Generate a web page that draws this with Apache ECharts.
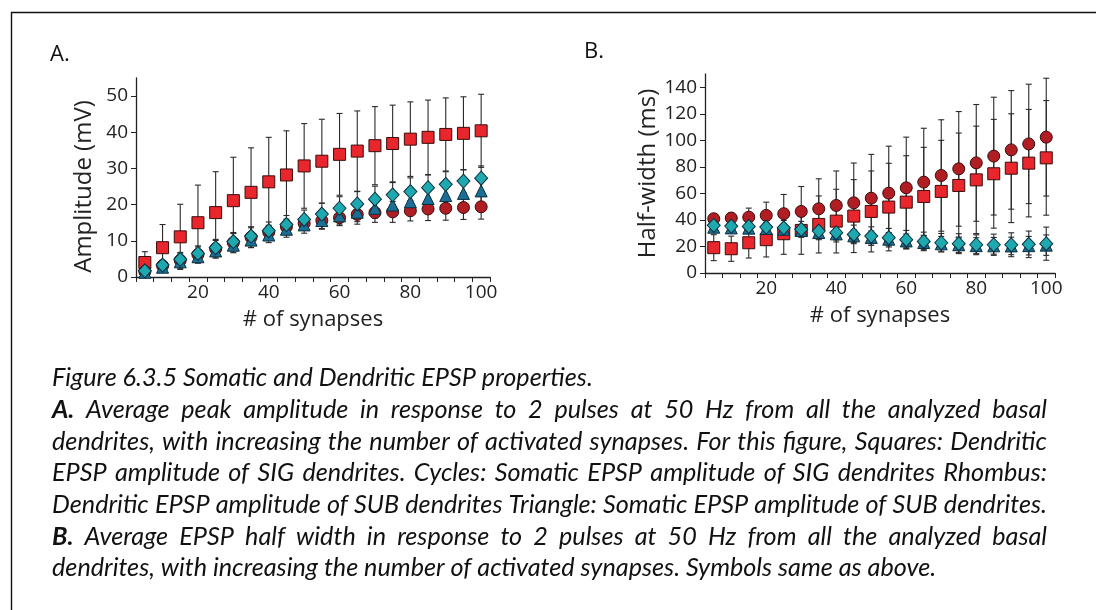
<!DOCTYPE html>
<html>
<head>
<meta charset="utf-8">
<script src="https://cdn.jsdelivr.net/npm/echarts@6/dist/echarts.min.js"></script>
<style>
html,body{margin:0;padding:0;background:#fff;}
#c{width:1096px;height:610px;}
</style>
</head>
<body>
<div id="c"></div>
<script>
// ---------------- DATA ----------------
const synapses = ['5','10','15','20','25','30','35','40','45','50','55','60','65','70','75','80','85','90','95','100'];

// Panel A: amplitude (mV)
const ampDendSIG    = [4.0, 8.1, 11.1, 15.0, 17.8, 21.1, 23.4, 26.3, 28.2, 30.7, 32.0, 33.9, 34.8, 36.3, 36.9, 38.1, 38.6, 39.4, 39.7, 40.4]; // squares
const ampDendSIGErr = [3.0, 6.4, 9.0, 10.4, 11.3, 12.0, 12.3, 12.3, 12.2, 11.7, 11.6, 11.3, 11.1, 10.8, 10.6, 10.3, 10.3, 10.1, 10.1, 10.1];
const ampSomaSIG    = [1.5, 3.1, 4.6, 6.2, 7.8, 9.5, 11.0, 12.4, 13.9, 14.8, 15.6, 16.4, 17.3, 17.8, 18.0, 18.3, 18.8, 19.0, 19.2, 19.4]; // circles
const ampSomaSIGErr = [0.8, 1.5, 2.2, 2.4, 2.6, 2.8, 2.9, 1.9, 1.8, 1.8, 2.2, 2.2, 2.7, 2.7, 2.9, 2.8, 3.2, 3.3, 3.3, 3.4];
const ampDendSUB    = [1.7, 3.3, 4.9, 6.5, 8.1, 9.8, 11.3, 12.8, 14.5, 15.9, 17.4, 19.0, 20.2, 21.5, 22.7, 23.6, 24.7, 25.6, 26.5, 27.3]; // diamonds
const ampDendSUBErr = [0.8, 1.2, 1.5, 1.8, 2.0, 2.2, 2.3, 2.4, 2.5, 2.6, 3.0, 3.2, 3.4, 3.6, 3.4, 3.8, 3.5, 3.5, 3.2, 3.4];
const ampSomaSUB    = [1.3, 2.7, 4.2, 5.6, 7.2, 8.8, 10.2, 11.6, 13.2, 14.4, 15.6, 16.9, 17.9, 19.0, 19.9, 20.8, 21.7, 22.5, 23.1, 23.8]; // triangles
const ampSomaSUBErr = [0.7, 1.0, 1.3, 1.5, 1.7, 1.9, 2.0, 2.1, 2.2, 2.3, 2.4, 2.5, 2.6, 2.7, 2.8, 2.9, 3.0, 3.0, 3.1, 3.2];

// Panel B: half-width (ms)
const hwDendSIG     = [19.1, 18.3, 22.8, 25.1, 29.6, 32.1, 36.6, 39.1, 42.9, 46.4, 49.7, 53.4, 57.7, 61.5, 66.0, 70.2, 74.8, 79.0, 82.8, 86.8]; // squares
const hwDendSIGErr  = [9.8, 9.5, 11.5, 13.0, 15.5, 18.0, 21.5, 24.0, 27.5, 30.5, 33.0, 35.0, 37.0, 38.5, 39.5, 40.5, 41.0, 41.0, 40.5, 43.2];
const hwSomaSIG     = [40.9, 41.4, 42.1, 43.4, 44.7, 46.4, 48.4, 50.9, 52.9, 56.4, 60.2, 64.2, 68.5, 73.5, 78.5, 83.0, 88.1, 92.8, 97.3, 102.4]; // circles
const hwSomaSIGErr  = [2.5, 3.8, 6.8, 10.0, 14.5, 18.8, 22.6, 26.0, 30.0, 33.0, 35.4, 38.2, 40.6, 42.0, 43.2, 44.0, 44.4, 44.7, 45.0, 44.4];
const hwDendSUB     = [35.9, 35.4, 35.1, 34.6, 34.1, 32.9, 31.6, 30.4, 29.1, 27.8, 26.6, 25.1, 23.8, 22.8, 22.1, 21.3, 21.3, 21.3, 21.6, 22.1]; // diamonds
const hwDendSUBErr  = [4.0, 4.0, 4.5, 5.0, 5.5, 6.0, 6.5, 7.0, 7.0, 7.0, 7.0, 7.0, 7.0, 7.0, 7.5, 7.5, 8.0, 9.0, 10.0, 12.5];
const hwSomaSUB     = [34.5, 34.0, 33.8, 33.5, 33.0, 32.0, 30.5, 29.5, 28.0, 26.8, 25.5, 24.2, 23.0, 22.0, 21.3, 20.6, 20.5, 20.4, 20.6, 21.0]; // triangles
const hwSomaSUBErr  = [3.0, 3.0, 3.2, 3.4, 3.6, 3.8, 4.0, 4.2, 4.5, 4.8, 5.0, 5.2, 5.4, 5.6, 5.8, 6.0, 6.3, 6.6, 7.0, 7.7];

const ampTicks = [0, 10, 20, 30, 40, 50];
const hwTicks  = [0, 20, 40, 60, 80, 100, 120, 140];

const panelLabels = ['A.', 'B.'];
const axisNames = { x: '# of synapses', yA: 'Amplitude (mV)', yB: 'Half-width (ms)' };

const captionLines = [
  [null, 'Figure 6.3.5 Somatic and Dendritic EPSP properties.', false],
  ['A.', 'Average peak amplitude in response to 2 pulses at 50 Hz from all the analyzed basal', true],
  [null, 'dendrites, with increasing the number of activated synapses. For this figure, Squares: Dendritic', true],
  [null, 'EPSP amplitude of SIG dendrites. Cycles: Somatic EPSP amplitude of SIG dendrites Rhombus:', true],
  [null, 'Dendritic EPSP amplitude of SUB dendrites Triangle: Somatic EPSP amplitude of SUB dendrites.', true],
  ['B.', 'Average EPSP half width in response to 2 pulses at 50 Hz from all the analyzed basal', true],
  [null, 'dendrites, with increasing the number of activated synapses. Symbols same as above.', false]
];

// ---------------- STYLE ----------------
const FONT = '"Open Sans", "Noto Sans", sans-serif';
const INK = '#222';
const COL = {
  square:   { fill: '#e8262b', border: '#3a0c0c' },
  circle:   { fill: '#b01e24', border: '#3a0c0c' },
  diamond:  { fill: '#1ea8b0', border: '#0c2f3c' },
  triangle: { fill: '#1b6e96', border: '#0c2f3c' }
};

const ctx = document.createElement('canvas').getContext('2d');
function hasFont(name) {
  const s = 'abcdefghijklmnopqrstuvwxyz ABCDEFG 0123';
  ctx.font = '20px monospace';
  const a = ctx.measureText(s).width;
  ctx.font = '20px "' + name + '", monospace';
  const b = ctx.measureText(s).width;
  return Math.abs(a - b) > 0.5;
}
let CAP_FAMILY = 'Lato';
if (hasFont('Liberation Sans Narrow')) CAP_FAMILY = 'Liberation Sans Narrow';
const CAP_FONT = '"' + CAP_FAMILY + '", sans-serif';

function mw(text, size, bold) {
  ctx.font = 'italic ' + (bold ? 'bold ' : 'normal ') + size + 'px ' + CAP_FONT;
  return ctx.measureText(text).width;
}

function mkX(gi) {
  return {
    type: 'category', gridIndex: gi, data: synapses, boundaryGap: true,
    axisLine: { lineStyle: { color: INK, width: 1.3 } },
    axisTick: { show: true, interval: 0, length: 5, lineStyle: { color: INK, width: 1 } },
    axisLabel: { interval: (i, v) => Number(v) % 20 === 0, fontSize: 19, color: INK, fontFamily: FONT, margin: 6 },
    splitLine: { show: false },
    name: axisNames.x, nameLocation: 'middle', nameGap: 32,
    nameTextStyle: { fontSize: 22, color: INK, fontFamily: FONT }
  };
}
function mkY(gi, max, ticks, name, gap, pad) {
  return {
    type: 'value', gridIndex: gi, min: 0, max: max,
    axisLine: { show: true, lineStyle: { color: INK, width: 1.3 } },
    axisTick: { show: true, length: 5, customValues: ticks, lineStyle: { color: INK, width: 1 } },
    axisLabel: { customValues: ticks, fontSize: 19, color: INK, fontFamily: FONT, margin: 8 },
    splitLine: { show: false },
    name: name, nameLocation: 'middle', nameGap: gap,
    nameTextStyle: { fontSize: 24, color: INK, fontFamily: FONT, padding: pad }
  };
}

function errSeries(gi, vals, errs) {
  return {
    type: 'custom', xAxisIndex: gi, yAxisIndex: gi, z: 2, silent: true,
    data: vals.map((v, i) => [i, Math.max(0, v - errs[i]), v + errs[i]]),
    encode: { x: 0, y: [1, 2] },
    renderItem: function (params, api) {
      const lo = api.coord([api.value(0), api.value(1)]);
      const hi = api.coord([api.value(0), api.value(2)]);
      const hw = 3;
      const st = { stroke: '#2a2a2a', lineWidth: 1.1 };
      return {
        type: 'group', children: [
          { type: 'line', shape: { x1: lo[0], y1: lo[1], x2: hi[0], y2: hi[1] }, style: st },
          { type: 'line', shape: { x1: lo[0] - hw, y1: lo[1], x2: lo[0] + hw, y2: lo[1] }, style: st },
          { type: 'line', shape: { x1: hi[0] - hw, y1: hi[1], x2: hi[0] + hw, y2: hi[1] }, style: st }
        ]
      };
    }
  };
}
function ptSeries(gi, vals, kind, z) {
  const sym = { square: 'rect', circle: 'circle', diamond: 'diamond', triangle: 'triangle' }[kind];
  const size = { square: 12, circle: 12, diamond: [13, 14], triangle: 12 }[kind];
  return {
    type: 'scatter', xAxisIndex: gi, yAxisIndex: gi, z: z, silent: true,
    data: vals, symbol: sym, symbolSize: size,
    itemStyle: { color: COL[kind].fill, borderColor: COL[kind].border, borderWidth: 1, opacity: 1 }
  };
}

// ---------------- CAPTION LAYOUT ----------------
const CAP_LEFT = 52, CAP_RIGHT = 1047, CAP_Y0 = 378, CAP_DY = 31.7;
const CAP_W = CAP_RIGHT - CAP_LEFT;
// font size chosen so the tightest justified line (line 3) fills the width with normal spacing
let capSize = 20 * (CAP_W - 2) / mw(captionLines[2][1], 20, false);
captionLines.forEach(l => {
  if (!l[2]) return;
  const full = (l[0] ? mw(l[0] + ' ', 20, true) : 0) + mw(l[1], 20, false);
  if (20 * (CAP_W - 2) / full < capSize) capSize = 20 * (CAP_W - 2) / full;
});
capSize = Math.min(capSize, 27);

const captionGraphics = [];
captionLines.forEach((l, li) => {
  const y = CAP_Y0 + li * CAP_DY;
  const toks = [];
  if (l[0]) toks.push({ t: l[0], b: true });
  l[1].split(' ').forEach(t => toks.push({ t: t, b: false }));
  const widths = toks.map(o => mw(o.t, capSize, o.b));
  const sum = widths.reduce((a, b) => a + b, 0);
  const gap = l[2] ? (CAP_W - sum) / (toks.length - 1) : mw(' ', capSize, false);
  let x = CAP_LEFT;
  toks.forEach((o, i) => {
    captionGraphics.push({
      type: 'text', x: x, y: y, silent: true,
      style: {
        text: o.t, fill: '#111', fontFamily: CAP_FONT, fontSize: capSize,
        fontStyle: 'italic', fontWeight: o.b ? 'bold' : 'normal',
        textVerticalAlign: 'middle', textAlign: 'left'
      }
    });
    x += widths[i] + gap;
  });
});

// ---------------- CHART ----------------
const chart = echarts.init(document.getElementById('c'), null, { renderer: 'canvas' });
const option = {
  animation: false,
  backgroundColor: '#ffffff',
  grid: [
    { left: 136, top: 78, width: 354, height: 199 },
    { left: 705, top: 74, width: 350, height: 199 }
  ],
  xAxis: [mkX(0), mkX(1)],
  yAxis: [mkY(0, 55, ampTicks, axisNames.yA, 40, [0, 18, 0, 0]), mkY(1, 150, hwTicks, axisNames.yB, 43, 0)],
  series: [
    errSeries(0, ampDendSIG, ampDendSIGErr),
    errSeries(0, ampSomaSIG, ampSomaSIGErr),
    errSeries(0, ampSomaSUB, ampSomaSUBErr),
    errSeries(0, ampDendSUB, ampDendSUBErr),
    ptSeries(0, ampDendSIG, 'square', 3),
    ptSeries(0, ampSomaSIG, 'circle', 4),
    ptSeries(0, ampSomaSUB, 'triangle', 5),
    ptSeries(0, ampDendSUB, 'diamond', 6),

    errSeries(1, hwDendSIG, hwDendSIGErr),
    errSeries(1, hwSomaSIG, hwSomaSIGErr),
    errSeries(1, hwSomaSUB, hwSomaSUBErr),
    errSeries(1, hwDendSUB, hwDendSUBErr),
    ptSeries(1, hwDendSIG, 'square', 3),
    ptSeries(1, hwSomaSIG, 'circle', 4),
    ptSeries(1, hwSomaSUB, 'triangle', 5),
    ptSeries(1, hwDendSUB, 'diamond', 6)
  ],
  graphic: [
    { type: 'line', silent: true, shape: { x1: 11, y1: 12.5, x2: 1096, y2: 12.5 }, style: { stroke: '#111', lineWidth: 1.4 } },
    { type: 'line', silent: true, shape: { x1: 11.5, y1: 12, x2: 11.5, y2: 610 }, style: { stroke: '#111', lineWidth: 1.4 } },
    { type: 'text', silent: true, x: 50, y: 55, style: { text: panelLabels[0], fill: '#111', fontFamily: FONT, fontSize: 22, textVerticalAlign: 'middle' } },
    { type: 'text', silent: true, x: 584, y: 52, style: { text: panelLabels[1], fill: '#111', fontFamily: FONT, fontSize: 22, textVerticalAlign: 'middle' } }
  ].concat(captionGraphics)
};
chart.setOption(option);
</script>
</body>
</html>
